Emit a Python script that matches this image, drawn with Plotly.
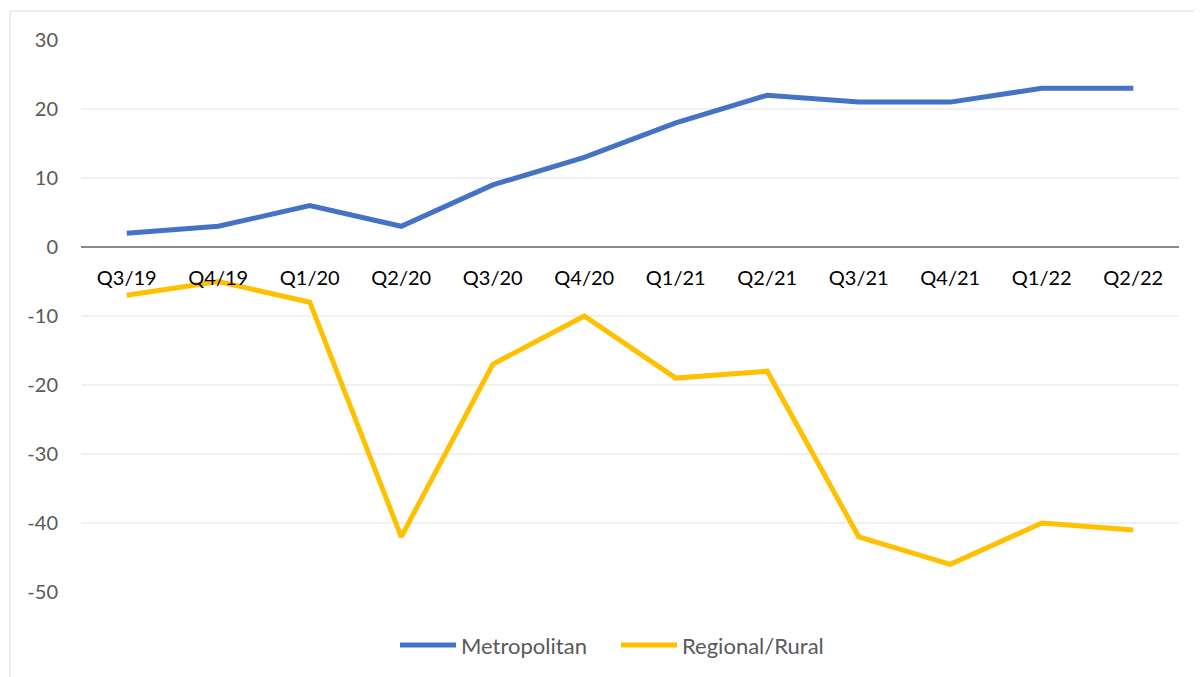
import plotly.graph_objects as go

quarters = ["Q3/19", "Q4/19", "Q1/20", "Q2/20", "Q3/20", "Q4/20",
            "Q1/21", "Q2/21", "Q3/21", "Q4/21", "Q1/22", "Q2/22"]
metropolitan = [2, 3, 6, 3, 9, 13, 18, 22, 21, 21, 23, 23]
regional_rural = [-7, -5, -8, -42, -17, -10, -19, -18, -42, -46, -40, -41]
y_ticks = [30, 20, 10, 0, -10, -20, -30, -40, -50]
y_tick_text = ["30", "20", "10", "0", "-10", "-20", "-30", "-40", "-50"]
series_names = ["Metropolitan", "Regional/Rural"]
series_colors = ["#4472C4", "#FFC000"]

FONT = "Lato, Calibri, Carlito, sans-serif"

W, H = 1202, 677
OFF = 8  # page body margin
# desired plot area in page pixels
PL, PR, PT, PB = 81, 1179, 40, 592
ml, mt = PL - OFF, PT - OFF
mr = W - (PR - OFF)
mb = H - (PB - OFF)
pw, ph = W - ml - mr, H - mt - mb

def pxx(px):
    return (px - OFF - ml) / pw

def pxy(py):
    return (H - mb - (py - OFF)) / ph

fig = go.Figure()
for name, vals, col in zip(series_names, [metropolitan, regional_rural], series_colors):
    fig.add_trace(go.Scatter(x=quarters, y=vals, mode="lines", name=name,
                             line=dict(color=col, width=5), showlegend=False))

shapes = [dict(type="rect", xref="paper", yref="paper",
               x0=pxx(10), x1=pxx(1215), y0=pxy(700), y1=pxy(11),
               line=dict(color="#D9D9D9", width=1), fillcolor="rgba(0,0,0,0)", layer="below")]
annotations = []
legend_items = [(400, 456, 459), (621, 677, 680)]
for (lx0, lx1, tx), name, col in zip(legend_items, series_names, series_colors):
    shapes.append(dict(type="line", xref="paper", yref="paper",
                       x0=pxx(lx0), x1=pxx(lx1), y0=pxy(645), y1=pxy(645),
                       line=dict(color=col, width=5)))
    annotations.append(dict(text=name, xref="paper", yref="paper", x=pxx(tx), y=pxy(645),
                            xanchor="left", yanchor="middle", showarrow=False,
                            font=dict(family=FONT, size=22, color="#595959")))

fig.update_layout(
    width=W, height=H,
    margin=dict(l=ml, r=mr, t=mt, b=mb),
    paper_bgcolor="white", plot_bgcolor="white",
    font=dict(family=FONT, size=20, color="#595959"),
    showlegend=False,
    xaxis=dict(type="category", range=[-0.5, 11.5], anchor="free",
               position=50 / 80, showline=True, linecolor="#898989", linewidth=1.5,
               showgrid=False, ticks="", tickfont=dict(family=FONT, size=20, color="#000000"),
               ticklabelstandoff=13, fixedrange=True),
    yaxis=dict(range=[-50, 30], tickvals=y_ticks, ticktext=y_tick_text, showgrid=True,
               gridcolor="#F0F0F0", gridwidth=1.5, zeroline=False, showline=False, ticks="",
               tickfont=dict(family=FONT, size=20, color="#595959"),
               ticklabelstandoff=22, fixedrange=True),
    shapes=shapes,
    annotations=annotations,
)

fig.write_html("out.html")
